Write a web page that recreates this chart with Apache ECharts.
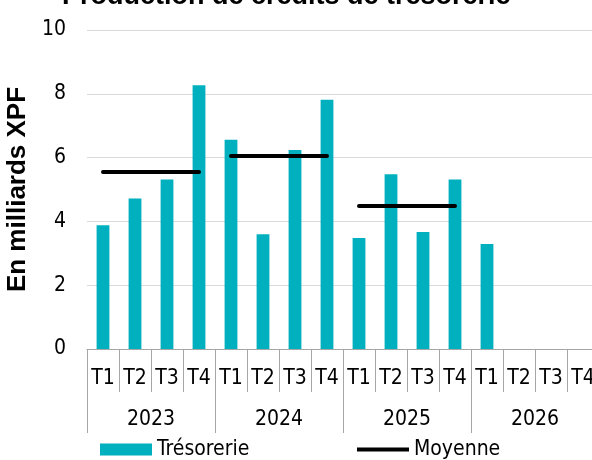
<!DOCTYPE html>
<html>
<head>
<meta charset="utf-8">
<script src="https://cdn.jsdelivr.net/npm/echarts@6/dist/echarts.min.js"></script>
<style>
  html, body { margin: 0; padding: 0; background: #fff; }
  #chart { width: 592px; height: 460px; }
</style>
</head>
<body>
<div id="chart"></div>
<script>
// Données
var quarters = ['T1', 'T2', 'T3', 'T4', 'T1', 'T2', 'T3', 'T4', 'T1', 'T2', 'T3', 'T4', 'T1', 'T2', 'T3', 'T4'];
var years = ['2023', '2024', '2025', '2026'];
var tresorerie = [3.88, 4.72, 5.31, 8.27, 6.56, 3.60, 6.24, 7.81, 3.48, 5.48, 3.67, 5.31, 3.29, null, null, null];
var moyenne = [5.55, 6.05, 4.48]; // moyenne annuelle 2023, 2024, 2025
var yTicks = [0, 2, 4, 6, 8, 10];

var labelFont = "'DejaVu Sans Condensed', 'DejaVu Sans', sans-serif";
var boldFont = "'Liberation Sans', Arial, sans-serif";
var axisGrey = '#a6a6a6';

var chartDom = document.getElementById('chart');
var myChart = echarts.init(chartDom);

// une série "Moyenne" par année, pour ne pas relier les segments
var moyenneSeries = moyenne.map(function (value, y) {
    var data = quarters.map(function (q, i) {
        return Math.floor(i / 4) === y ? value : null;
    });
    return {
        name: 'Moyenne',
        type: 'line',
        xAxisIndex: 0,
        data: data,
        symbol: 'none',
        connectNulls: false,
        lineStyle: { color: '#000', width: 4, cap: 'round' },
        itemStyle: { color: '#000' },
        z: 5
    };
});

var option = {
    animation: false,
    title: {
        text: 'Production de crédits de trésorerie',
        left: 62,
        top: -17,
        padding: 0,
        textStyle: { fontFamily: boldFont, fontSize: 27, fontWeight: 'bold', color: '#000' }
    },
    legend: [{
        data: ['Trésorerie'],
        left: 100,
        top: 439,
        padding: 0,
        itemWidth: 52,
        itemHeight: 12,
        icon: 'rect',
        textStyle: { fontFamily: labelFont, fontSize: 21, color: '#000' }
    }, {
        data: ['Moyenne'],
        left: 357,
        top: 439,
        padding: 0,
        itemWidth: 52,
        itemHeight: 4,
        icon: 'rect',
        itemStyle: { color: '#000' },
        textStyle: { fontFamily: labelFont, fontSize: 21, color: '#000' }
    }],
    grid: { left: 87, right: -7, top: 30, bottom: 111, outerBoundsMode: 'none' },
    xAxis: [{
        type: 'category',
        data: quarters,
        boundaryGap: true,
        axisLine: { lineStyle: { color: axisGrey, width: 1 } },
        axisTick: { show: true, interval: 0, length: 43, lineStyle: { color: axisGrey } },
        axisLabel: { interval: 0, margin: 19, fontFamily: labelFont, fontSize: 21, color: '#000' },
        splitLine: { show: false }
    }, {
        type: 'category',
        data: years,
        position: 'bottom',
        boundaryGap: true,
        axisLine: { show: false },
        axisTick: { show: true, interval: 0, length: 84, lineStyle: { color: axisGrey } },
        axisLabel: { interval: 0, margin: 60, fontFamily: labelFont, fontSize: 21, color: '#000' },
        splitLine: { show: false }
    }],
    yAxis: {
        type: 'value',
        min: yTicks[0],
        max: yTicks[yTicks.length - 1],
        interval: 2,
        name: 'En milliards XPF',
        nameLocation: 'middle',
        nameGap: 52,
        nameTextStyle: { fontFamily: boldFont, fontSize: 26, fontWeight: 'bold', color: '#000' },
        axisLine: { show: false },
        axisTick: { show: false },
        axisLabel: { margin: 21, fontFamily: labelFont, fontSize: 21, color: '#000' },
        splitLine: { lineStyle: { color: '#d9d9d9', width: 1 } }
    },
    series: [{
        name: 'Trésorerie',
        type: 'bar',
        xAxisIndex: 0,
        data: tresorerie,
        barWidth: '40%',
        itemStyle: { color: '#00b0be' }
    }].concat(moyenneSeries)
};

myChart.setOption(option);
</script>
</body>
</html>
